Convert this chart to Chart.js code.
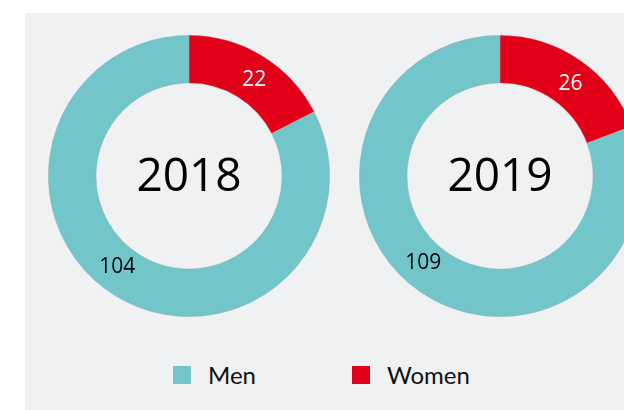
<!DOCTYPE html>
<html>
<head>
<meta charset="utf-8">
<script src="https://cdn.jsdelivr.net/npm/chart.js@4"></script>
<style>
  html, body { margin: 0; padding: 0; background: #fff; width: 624px; height: 410px; overflow: hidden; position: relative; }
  #panel { position: absolute; left: 25px; top: 13px; width: 599px; height: 397px; background: #f0f1f3; }
  .dona { position: absolute; top: 35px; width: 282px; height: 282px; }
  #dona2018 { left: 48px; }
  #dona2019 { left: 359px; }
  #leyenda { position: absolute; top: 360px; left: 0; width: 624px; height: 30px; font-family: Lato, sans-serif; font-size: 24px; color: #111; }
  .item { position: absolute; top: 0; height: 30px; }
  .caja { position: absolute; top: 6px; left: 0; width: 18px; height: 18px; }
  .texto { position: absolute; left: 35px; top: 0; line-height: 30px; white-space: nowrap; }
</style>
</head>
<body>
<div id="panel"></div>
<div class="dona" id="dona2018"><canvas id="c2018" width="282" height="282"></canvas></div>
<div class="dona" id="dona2019"><canvas id="c2019" width="282" height="282"></canvas></div>
<div id="leyenda"></div>
<script>
// Datos
const anios = ['2018', '2019'];
const categorias = ['Men', 'Women'];
const hombres = [104, 109];
const mujeres = [22, 26];

// Colores
const COLOR_HOMBRES = '#72c5c9';
const COLOR_MUJERES = '#e10017';
const colores = { Men: COLOR_HOMBRES, Women: COLOR_MUJERES };

// ajuste del ángulo de cada etiqueta (como el "best fit" de Excel)
const AJUSTE_ANGULO = [0.05, 0.12];

// plugin: año en el centro + etiquetas de valor
const textoDona = {
  id: 'textoDona',
  afterDatasetsDraw(chart) {
    const ctx = chart.ctx;
    const meta = chart.getDatasetMeta(0);
    const arc0 = meta.data[0];
    ctx.save();
    ctx.textAlign = 'center';
    ctx.textBaseline = 'middle';
    ctx.fillStyle = '#000';
    ctx.font = '46px "Open Sans", sans-serif';
    ctx.fillText(chart.options.plugins.textoDona.anio, arc0.x, arc0.y + 2);

    ctx.font = '21px "Open Sans", sans-serif';
    meta.data.forEach((arc, i) => {
      const a = (arc.startAngle + arc.endAngle) / 2 + AJUSTE_ANGULO[i];
      const r = (arc.innerRadius + arc.outerRadius) / 2 - 1;
      ctx.fillStyle = i === 0 ? '#fff' : '#000';
      ctx.fillText(chart.data.datasets[0].data[i], arc.x + Math.cos(a) * r, arc.y + Math.sin(a) * r);
    });
    ctx.restore();
  }
};

anios.forEach((anio, i) => {
  const ctx = document.getElementById('c' + anio).getContext('2d');
  new Chart(ctx, {
    type: 'doughnut',
    data: {
      labels: ['Women', 'Men'],
      datasets: [{
        data: [mujeres[i], hombres[i]],
        backgroundColor: [COLOR_MUJERES, COLOR_HOMBRES],
        borderColor: 'rgba(170,170,170,0.6)',
        borderWidth: 0.5,
        hoverOffset: 0,
        offset: 0
      }]
    },
    options: {
      responsive: false,
      animation: false,
      cutout: '66%',
      layout: { padding: 0 },
      events: [],
      plugins: {
        legend: { display: false },
        tooltip: { enabled: false },
        textoDona: { anio: anio }
      }
    },
    plugins: [textoDona]
  });
});

// Leyenda (a partir de las categorías)
const leyenda = document.getElementById('leyenda');
const posLeyenda = [173, 352];
categorias.forEach((cat, i) => {
  const item = document.createElement('div');
  item.className = 'item';
  item.style.left = posLeyenda[i] + 'px';
  item.innerHTML = `<span class="caja" style="background:${colores[cat]}"></span><span class="texto">${cat}</span>`;
  leyenda.appendChild(item);
});
</script>
</body>
</html>
